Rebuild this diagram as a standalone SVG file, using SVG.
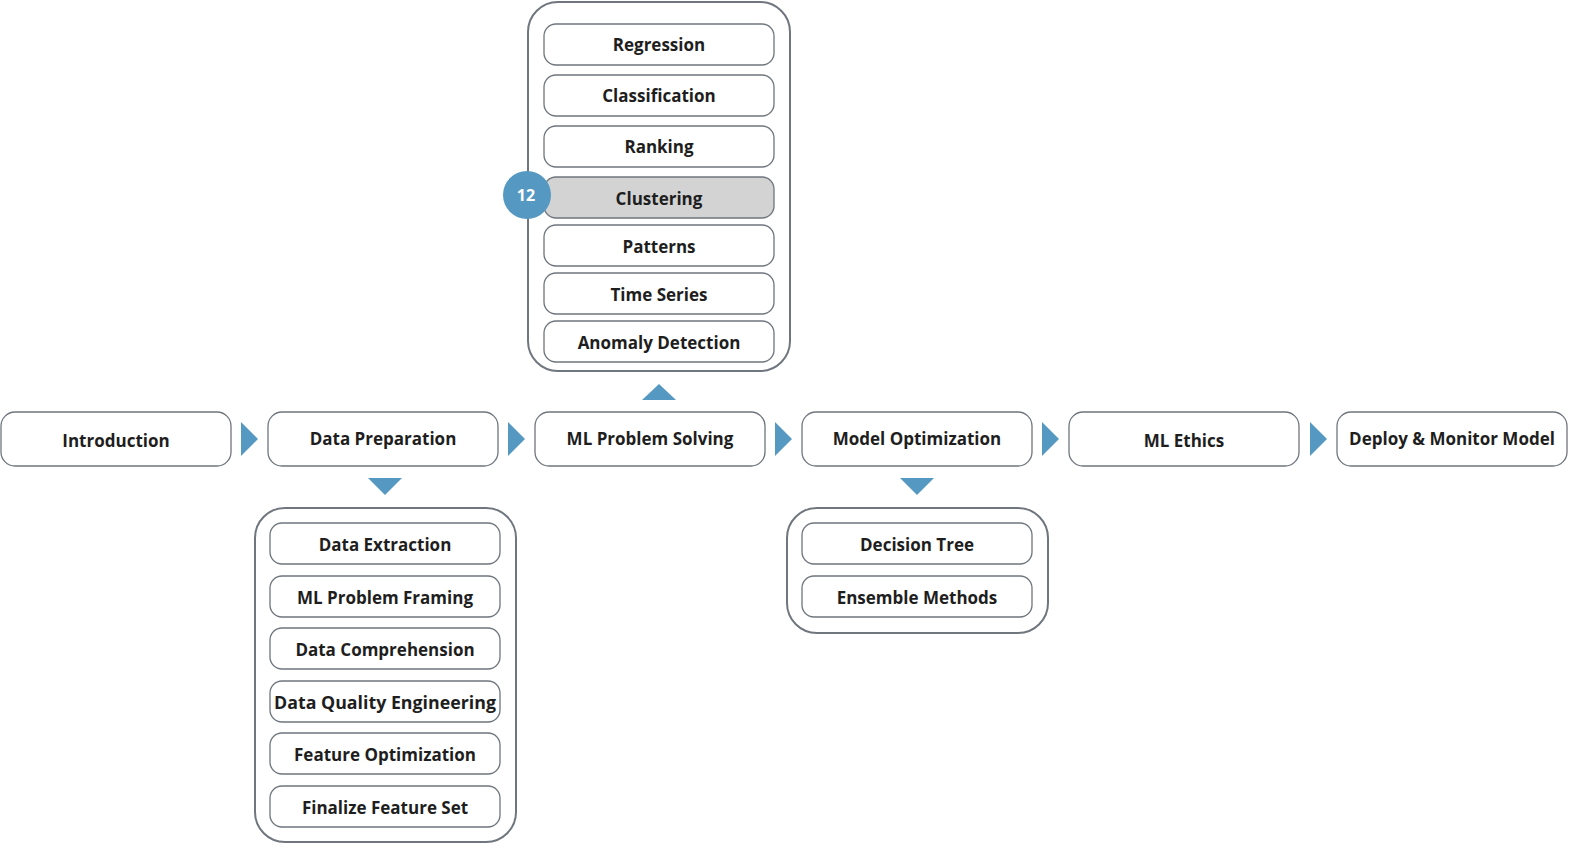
<svg xmlns="http://www.w3.org/2000/svg" width="1589" height="855" viewBox="0 0 1589 855">
<style>
.n{fill:#fff;stroke:#6f767d;stroke-width:1.3}
.c{fill:#fff;stroke:#6f767d;stroke-width:2}
.t{font-family:"Open Sans","Liberation Sans",sans-serif;font-weight:700;font-size:17px;fill:#1e1e1e;text-anchor:middle;dominant-baseline:central}
.a{fill:#5599c3}
</style>
<rect width="1589" height="855" fill="#fff"/>
<g id="connectors">
<polygon class="a" points="241,422 258,439 241,456"/>
<polygon class="a" points="508,422 525,439 508,456"/>
<polygon class="a" points="775,422 792,439 775,456"/>
<polygon class="a" points="1042,422 1059,439 1042,456"/>
<polygon class="a" points="1310,422 1327,439 1310,456"/>
<polygon class="a" points="642,400 676,400 659,384"/>
<polygon class="a" points="368,478 402,478 385,495"/>
<polygon class="a" points="900,478 934,478 917,495"/>
</g>
<g id="introduction"><rect class="n" x="1" y="412" width="230" height="54" rx="14"/><text class="t" x="116" y="440">Introduction</text></g>
<g id="data-preparation"><rect class="n" x="268" y="412" width="230" height="54" rx="14"/><text class="t" x="383" y="438">Data Preparation</text></g>
<g id="ml-problem-solving"><rect class="n" x="535" y="412" width="230" height="54" rx="14"/><text class="t" x="650" y="438">ML Problem Solving</text></g>
<g id="model-optimization"><rect class="n" x="802" y="412" width="230" height="54" rx="14"/><text class="t" x="917" y="438">Model Optimization</text></g>
<g id="ml-ethics"><rect class="n" x="1069" y="412" width="230" height="54" rx="14"/><text class="t" x="1184" y="440">ML Ethics</text></g>
<g id="deploy"><rect class="n" x="1337" y="412" width="230" height="54" rx="14"/><text class="t" x="1452" y="438">Deploy &amp; Monitor Model</text></g>

<g id="problem-types">
<rect class="c" x="528" y="2" width="262" height="369" rx="30"/>
<g id="regression"><rect class="n" x="544" y="24" width="230" height="41" rx="12"/><text class="t" x="659" y="44">Regression</text></g>
<g id="classification"><rect class="n" x="544" y="75" width="230" height="41" rx="12"/><text class="t" x="659" y="95">Classification</text></g>
<g id="ranking"><rect class="n" x="544" y="126" width="230" height="41" rx="12"/><text class="t" x="659" y="146">Ranking</text></g>
<g id="clustering"><rect class="n" x="544" y="177" width="230" height="41" rx="12" fill="#d3d3d3" style="fill:#d3d3d3"/><text class="t" x="659" y="198">Clustering</text></g>
<g id="patterns"><rect class="n" x="544" y="225" width="230" height="41" rx="12"/><text class="t" x="659" y="246">Patterns</text></g>
<g id="time-series"><rect class="n" x="544" y="273" width="230" height="41" rx="12"/><text class="t" x="659" y="294">Time Series</text></g>
<g id="anomaly"><rect class="n" x="544" y="321" width="230" height="41" rx="12"/><text class="t" x="659" y="342">Anomaly Detection</text></g>
<g id="badge"><circle cx="527" cy="195" r="24" fill="#5599c3"/><text class="t" x="526" y="195" style="fill:#fff;font-size:16px">12</text></g>
</g>

<g id="prep-steps">
<rect class="c" x="255" y="508" width="261" height="334" rx="30"/>
<g id="data-extraction"><rect class="n" x="270" y="523" width="230" height="41" rx="12"/><text class="t" x="385" y="544">Data Extraction</text></g>
<g id="ml-problem-framing"><rect class="n" x="270" y="576" width="230" height="41" rx="12"/><text class="t" x="385" y="597">ML Problem Framing</text></g>
<g id="data-comprehension"><rect class="n" x="270" y="628" width="230" height="41" rx="12"/><text class="t" x="385" y="649">Data Comprehension</text></g>
<g id="data-quality"><rect class="n" x="270" y="681" width="230" height="41" rx="12"/><text class="t" x="385" y="702" textLength="222" lengthAdjust="spacingAndGlyphs">Data Quality Engineering</text></g>
<g id="feature-optimization"><rect class="n" x="270" y="733" width="230" height="41" rx="12"/><text class="t" x="385" y="754">Feature Optimization</text></g>
<g id="finalize"><rect class="n" x="270" y="786" width="230" height="41" rx="12"/><text class="t" x="385" y="807">Finalize Feature Set</text></g>
</g>

<g id="opt-methods">
<rect class="c" x="787" y="508" width="261" height="125" rx="30"/>
<g id="decision-tree"><rect class="n" x="802" y="523" width="230" height="41" rx="12"/><text class="t" x="917" y="544">Decision Tree</text></g>
<g id="ensemble"><rect class="n" x="802" y="576" width="230" height="41" rx="12"/><text class="t" x="917" y="597">Ensemble Methods</text></g>
</g>
</svg>
